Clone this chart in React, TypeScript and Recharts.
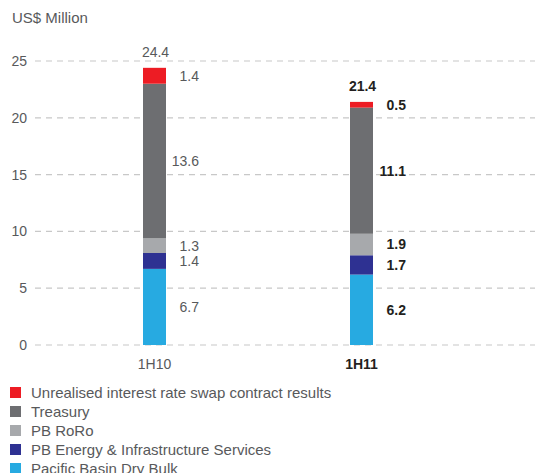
import React from 'react';
import { BarChart, Bar, XAxis, YAxis, CartesianGrid, LabelList } from 'recharts';

const categories = ['1H10', '1H11'];
const dryBulk = [6.7, 6.2];
const energy = [1.4, 1.7];
const roro = [1.3, 1.9];
const treasury = [13.6, 11.1];
const swap = [1.4, 0.5];
const totals = [24.4, 21.4];
const yTicks = [0, 5, 10, 15, 20, 25];

const seriesKeys = ['dryBulk', 'energy', 'roro', 'treasury', 'swap'];
const seriesColors: Record<string, string> = {
  dryBulk: '#27aae1',
  energy: '#2e3192',
  roro: '#a7a9ac',
  treasury: '#6d6e71',
  swap: '#ed1c24',
};
const legendItems = [
  { key: 'swap', label: 'Unrealised interest rate swap contract results' },
  { key: 'treasury', label: 'Treasury' },
  { key: 'roro', label: 'PB RoRo' },
  { key: 'energy', label: 'PB Energy & Infrastructure Services' },
  { key: 'dryBulk', label: 'Pacific Basin Dry Bulk' },
];

const data = categories.map((c, i) => ({
  name: c,
  dryBulk: dryBulk[i],
  energy: energy[i],
  roro: roro[i],
  treasury: treasury[i],
  swap: swap[i],
  total: totals[i],
}));

const FONT = '"Liberation Sans", Arial, Helvetica, sans-serif';

const SegLabel = (props: any) => {
  const { x, y, width, height, value, index } = props;
  const bold = index === 1;
  return (
    <text
      x={Number(x) + Number(width) + 33}
      y={Number(y) + Number(height) / 2}
      textAnchor="end"
      dominantBaseline="central"
      fontFamily={FONT}
      fontSize={14}
      fontWeight={bold ? 700 : 400}
      fill={bold ? '#231f20' : '#58595b'}
    >
      {Number(value).toFixed(1)}
    </text>
  );
};

const TotalLabel = (props: any) => {
  const { x, y, width, index } = props;
  const bold = index === 1;
  return (
    <text
      x={Number(x) + Number(width) / 2 + 1}
      y={Number(y) - 16}
      textAnchor="middle"
      dominantBaseline="central"
      fontFamily={FONT}
      fontSize={14}
      fontWeight={bold ? 700 : 400}
      fill={bold ? '#231f20' : '#58595b'}
    >
      {totals[index].toFixed(1)}
    </text>
  );
};

const XTick = (props: any) => {
  const { x, y, payload, index } = props;
  const bold = index === 1;
  return (
    <text
      x={x}
      y={Number(y) + 12}
      textAnchor="middle"
      dominantBaseline="hanging"
      fontFamily={FONT}
      fontSize={14}
      fontWeight={bold ? 700 : 400}
      fill={bold ? '#231f20' : '#58595b'}
    >
      {payload.value}
    </text>
  );
};

export default function App() {
  return (
    <div style={{ position: 'absolute', left: 0, top: 0, width: 535, height: 473, background: '#fff', fontFamily: FONT, overflow: 'hidden' }}>
      <div style={{ position: 'absolute', left: 12, top: 9, fontSize: 15, color: '#58595b' }}>US$ Million</div>
      <BarChart
        width={535}
        height={473}
        data={data}
        margin={{ top: 61, right: 0, bottom: 98, left: 0 }}
      >
        <CartesianGrid vertical={false} strokeDasharray="6 5" stroke="#c8c8c8" strokeWidth={1.2} />
        <XAxis
          dataKey="name"
          axisLine={false}
          tickLine={false}
          tickSize={0}
          height={30}
          padding={{ left: 16, right: 70 }}
          tick={<XTick />}
        />
        <YAxis
          domain={[0, 25]}
          ticks={yTicks}
          axisLine={false}
          tickLine={false}
          tickSize={0}
          tickMargin={8}
          width={35}
          tick={{ fontFamily: FONT, fontSize: 14, fill: '#58595b' }}
        />
        {seriesKeys.map((k) => (
          <Bar key={k} dataKey={k} stackId="a" fill={seriesColors[k]} barSize={23} isAnimationActive={false}>
            <LabelList dataKey={k} content={<SegLabel />} />
            {k === 'swap' ? <LabelList dataKey="total" content={<TotalLabel />} /> : null}
          </Bar>
        ))}
      </BarChart>
      {legendItems.map((it, i) => (
        <div
          key={it.key}
          style={{
            position: 'absolute',
            left: 10,
            top: 383 + i * 19,
            height: 18,
            display: 'flex',
            alignItems: 'center',
            fontSize: 15,
            color: '#58595b',
            whiteSpace: 'nowrap',
          }}
        >
          <span style={{ display: 'inline-block', width: 11, height: 11, background: seriesColors[it.key], marginRight: 10 }} />
          <span>{it.label}</span>
        </div>
      ))}
    </div>
  );
}
